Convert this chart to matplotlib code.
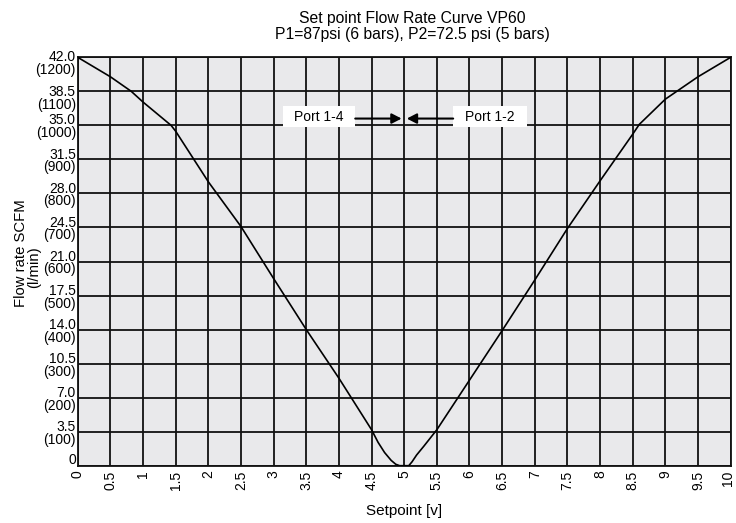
import matplotlib
matplotlib.use("Agg")
import matplotlib.pyplot as plt
from matplotlib.patches import Rectangle
from matplotlib.transforms import ScaledTranslation

plt.rcParams['font.family'] = ['Liberation Sans', 'DejaVu Sans']

# ---- data ----
setpoint = [0, 0.5, 0.82, 1, 1.43, 1.5, 2, 2.5, 3, 3.5, 4, 4.5, 4.6, 4.7,
            4.8, 4.87, 4.93, 5.07, 5.12, 5.19, 5.3, 5.4, 5.5, 6, 6.5, 7, 7.5,
            8, 8.5, 8.6, 9, 9.5, 10]
flow_scfm = [42.0, 40.0, 38.5, 37.4, 35.0, 34.4, 29.2, 24.6, 19.25, 14.0, 9.0,
             3.7, 2.4, 1.35, 0.55, 0.15, 0.0, 0.0, 0.4, 1.1, 2.0, 2.85, 3.7, 8.8,
             13.9, 19.1, 24.4, 29.3, 34.1, 35.1, 37.7, 40.0, 42.0]

x_ticks = [0, 0.5, 1, 1.5, 2, 2.5, 3, 3.5, 4, 4.5, 5, 5.5, 6, 6.5, 7, 7.5, 8, 8.5, 9, 9.5, 10]
x_tick_labels = ['0', '0.5', '1', '1.5', '2', '2.5', '3', '3.5', '4', '4.5', '5',
                 '5.5', '6', '6.5', '7', '7.5', '8', '8.5', '9', '9.5', '10']
y_ticks = [0, 3.5, 7.0, 10.5, 14.0, 17.5, 21.0, 24.5, 28.0, 31.5, 35.0, 38.5, 42.0]
y_tick_labels = ['0', '3.5\n(100)', '7.0\n(200)', '10.5\n(300)', '14.0\n(400)',
                 '17.5\n(500)', '21.0\n(600)', '24.5\n(700)', '28.0\n(800)',
                 '31.5\n(900)', '35.0\n(1000)', '38.5\n(1100)', '42.0\n(1200)']

title = "Set point Flow Rate Curve VP60\nP1=87psi (6 bars), P2=72.5 psi (5 bars)"
xlabel = "Setpoint [v]"
ylabel_main = "Flow rate SCFM"
ylabel_unit = "(l/min)"
port_left = "Port 1-4"
port_right = "Port 1-2"
target_x = 5.0
arrow_y = 35.7

# ---- figure ----
W, H = 736, 523
fig = plt.figure(figsize=(W / 100, H / 100), dpi=100)
ax = fig.add_axes([77.7 / W, 1 - 465.7 / H, (730.7 - 77.7) / W, (465.7 - 57.3) / H])
ax.set_facecolor('#e9e9eb')

ax.set_xlim(0, 10)
ax.set_ylim(0, 42)
ax.set_xticks(x_ticks)
ax.set_yticks(y_ticks)
ax.set_yticklabels([])
ax.tick_params(axis='both', length=0)
ax.set_xticklabels([])

# x tick labels (rotated), drawn as annotations under each gridline
for xv, lab in zip(x_ticks, x_tick_labels):
    dx = -1.6 if xv == x_ticks[-1] else 0.0
    ax.annotate(lab, xy=(xv, 0), xycoords=('data', 'axes fraction'),
                xytext=(dx, -3.5), textcoords='offset points', rotation=90,
                ha='center', va='top', fontsize=10, annotation_clip=False)

ax.grid(True, color='#111111', linewidth=1.3)
ax.set_axisbelow(True)
for s in ax.spines.values():
    s.set_color('#111111')
    s.set_linewidth(1.3)

# y tick labels: first line's baseline sits on its gridline
PX = 0.72  # points per pixel
extra_down = {42.0: 4.5, 38.5: 6.0}
for v, lab in zip(y_ticks, y_tick_labels):
    n_extra_lines = lab.count('\n')
    dy = -(12 * n_extra_lines + extra_down.get(v, 0.0)) * PX
    if v == 0:
        dy = 1.0
    ax.annotate(lab, xy=(0, v), xycoords=('axes fraction', 'data'),
                xytext=(-1.3, dy), textcoords='offset points',
                ha='right', va='baseline', fontsize=10, linespacing=0.9,
                annotation_clip=False)

ax.plot(setpoint, flow_scfm, color='black', linewidth=1.2, zorder=3)

# labels
ax.text(0.512, 1.0 + 15 / 408.4, title, transform=ax.transAxes, ha='center',
        va='bottom', fontsize=11.3, linespacing=1.12)
ax.text(0.5, -(511 - 465.7) / 408.4, xlabel, transform=ax.transAxes,
        ha='center', va='center', fontsize=11)
ax.text(-0.0875, 0.521, ylabel_main, transform=ax.transAxes, rotation=90,
        ha='center', va='center', fontsize=10.7)
ax.text(-0.067, 0.485, ylabel_unit, transform=ax.transAxes, rotation=90,
        ha='center', va='center', fontsize=10.7)

# port annotations
ax.add_patch(Rectangle((3.14, 34.82), 1.11, 2.22, facecolor='white',
                       edgecolor='none', zorder=4))
ax.add_patch(Rectangle((5.75, 34.82), 1.13, 2.22, facecolor='white',
                       edgecolor='none', zorder=4))
ax.text(3.69, 35.9, port_left, ha='center', va='center', fontsize=10, zorder=5)
ax.text(6.31, 35.9, port_right, ha='center', va='center', fontsize=10, zorder=5)
ap = dict(arrowstyle='-|>,head_length=0.58,head_width=0.3', lw=1.5,
          color='black', shrinkA=0, shrinkB=0)
ax.annotate('', xy=(target_x - 0.04, arrow_y), xytext=(4.25, arrow_y),
            arrowprops=ap, zorder=5)
ax.annotate('', xy=(target_x + 0.04, arrow_y), xytext=(5.75, arrow_y),
            arrowprops=ap, zorder=5)

fig.savefig('out.png', dpi=100)
